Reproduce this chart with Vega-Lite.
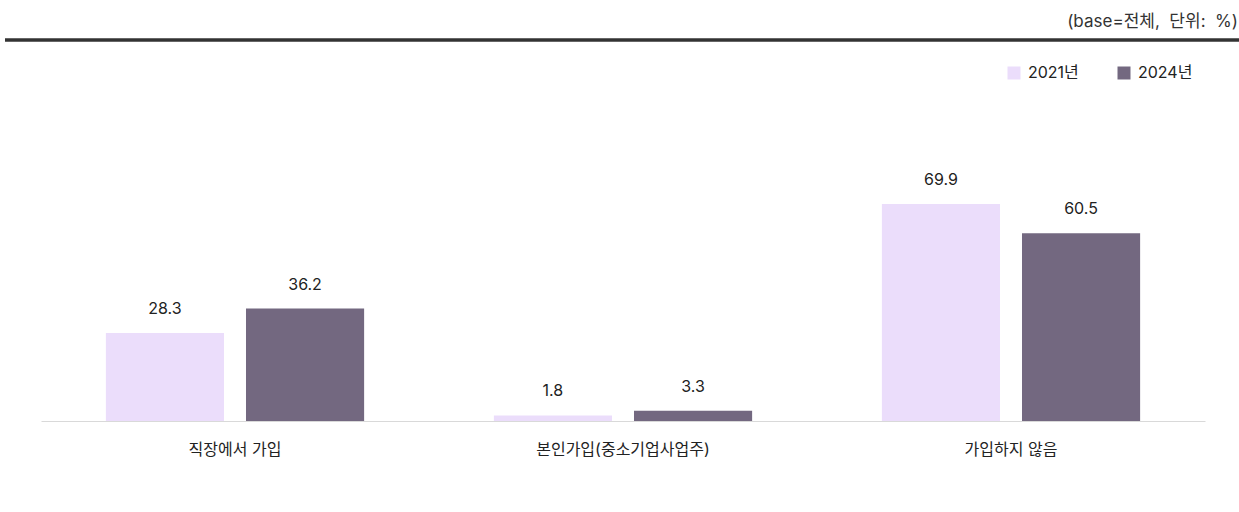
{
  "$schema": "https://vega.github.io/schema/vega-lite/v6.json",
  "width": 1164,
  "height": 381,
  "autosize": {"type": "none"},
  "padding": {"left": 41, "top": 40, "right": 34, "bottom": 91},
  "background": "white",
  "config": {"view": {"stroke": null}, "font": "Inter, Noto Sans CJK KR"},
  "datasets": {
    "bars": [
      {"category": "직장에서 가입", "year": "2021년", "value": 28.3},
      {"category": "직장에서 가입", "year": "2024년", "value": 36.2},
      {"category": "본인가입(중소기업사업주)", "year": "2021년", "value": 1.8},
      {"category": "본인가입(중소기업사업주)", "year": "2024년", "value": 3.3},
      {"category": "가입하지 않음", "year": "2021년", "value": 69.9},
      {"category": "가입하지 않음", "year": "2024년", "value": 60.5}
    ],
    "header": [{"note": "(base=전체,\u00a0 단위:\u00a0 %)"}]
  },
  "layer": [
    {
      "data": {"name": "bars"},
      "encoding": {
        "x": {
          "field": "category",
          "type": "nominal",
          "sort": ["직장에서 가입", "본인가입(중소기업사업주)", "가입하지 않음"],
          "scale": {"paddingInner": 0, "paddingOuter": 0},
          "axis": {
            "title": null,
            "labelAngle": 0,
            "ticks": false,
            "domainColor": "#d9d9d9",
            "domainWidth": 1,
            "labelFontSize": 16,
            "labelColor": "#222222",
            "labelPadding": 20,
            "labelFont": "Inter, Noto Sans CJK KR"
          }
        },
        "xOffset": {
          "field": "year",
          "type": "nominal",
          "scale": {"paddingInner": 0.157, "paddingOuter": 0.463}
        },
        "y": {
          "field": "value",
          "type": "quantitative",
          "scale": {"domain": [0, 122.7], "nice": false, "zero": true},
          "axis": null
        }
      },
      "layer": [
        {
          "mark": {"type": "bar"},
          "encoding": {
            "color": {
              "field": "year",
              "type": "nominal",
              "scale": {"domain": ["2021년", "2024년"], "range": ["#EBDDFB", "#736880"]},
              "legend": {
                "title": null,
                "orient": "none",
                "legendX": 965,
                "legendY": 25,
                "direction": "horizontal",
                "symbolType": "square",
                "symbolSize": 169,
                "symbolStrokeWidth": 0,
                "labelFontSize": 16,
                "labelColor": "#222222",
                "labelFont": "Inter, Noto Sans CJK KR",
                "labelOffset": 6,
                "columnPadding": 37
              }
            }
          }
        },
        {
          "mark": {"type": "text", "dy": -19, "baseline": "alphabetic", "fontSize": 16, "color": "#222222"},
          "encoding": {"text": {"field": "value", "type": "quantitative", "format": ".1f"}}
        }
      ]
    },
    {
      "data": {"name": "header"},
      "encoding": {
        "y": {"datum": 122.7, "type": "quantitative", "axis": null}
      },
      "layer": [
        {
          "mark": {"type": "rule", "strokeWidth": 3.5, "color": "#333333"},
          "encoding": {
            "x": {"datum": 0, "type": "quantitative", "scale": {"domain": [0, 1], "range": [-36, 1198]}, "axis": null},
            "x2": {"datum": 1}
          }
        },
        {
          "mark": {"type": "text", "align": "right", "baseline": "middle", "dy": -18, "dx": -1, "fontSize": 17, "color": "#333333"},
          "encoding": {
            "x": {"datum": 1, "type": "quantitative", "scale": {"domain": [0, 1], "range": [-36, 1198]}, "axis": null},
            "text": {"field": "note"}
          }
        }
      ]
    }
  ],
  "resolve": {"scale": {"x": "independent"}}
}
